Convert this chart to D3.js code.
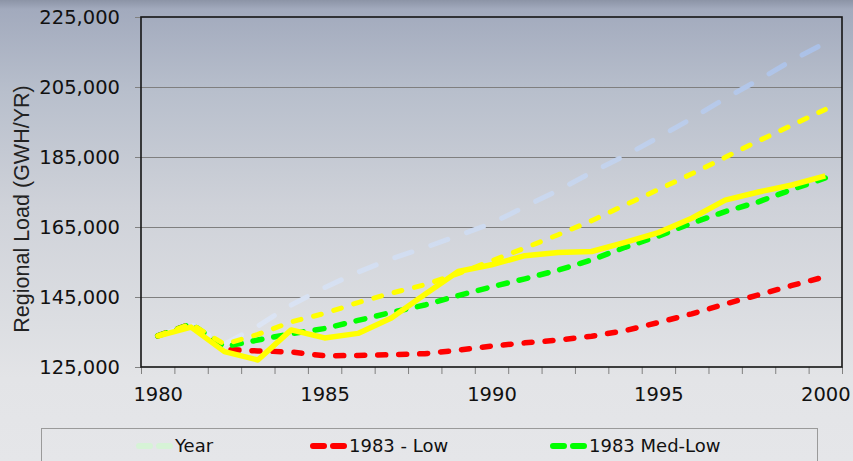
<!DOCTYPE html>
<html>
<head>
<meta charset="utf-8">
<title>Regional Load Forecasts</title>
<style>
  body { margin: 0; background: #e4e5e8; }
  svg { display: block; }
  text { font-family: 'DejaVu Sans', sans-serif; fill: #111; }
</style>
</head>
<body>
<script src="https://d3js.org/d3.v7.min.js"></script>
<script>

// values, 1980 - 2000
var years = [1980, 1981, 1982, 1983, 1984, 1985, 1986, 1987, 1988, 1989, 1990,
             1991, 1992, 1993, 1994, 1995, 1996, 1997, 1998, 1999, 2000];

var yearSeries   = [133900, 137300, 131500, 136700, 142700, 147700, 152100, 155900, 159100, 162500, 166000,
                    170800, 175500, 180600, 185400, 190600, 196000, 201700, 207000, 212600, 217600];
var lowSeries    = [133900, 137300, 130000, 129600, 129300, 128200, 128300, 128500, 128800, 129800, 131000,
                    131900, 132700, 133800, 135400, 137700, 140200, 143000, 145600, 148300, 150800];
var medLowSeries = [133900, 137300, 130800, 132700, 134500, 136000, 138300, 140600, 142700, 145400, 147900,
                    150200, 152700, 155600, 159200, 162400, 166100, 169400, 172200, 175700, 179000];
var mediumSeries = [133900, 137300, 131500, 134300, 137900, 140300, 143400, 146100, 148500, 151700, 155300,
                    159000, 162800, 166800, 171300, 175700, 180200, 184900, 189600, 194100, 198600];
var actualSeries = [133800, 136400, 129400, 127000, 135600, 133300, 134600, 139000, 145700, 152300, 154200,
                    156800, 157700, 158000, 160600, 163400, 167500, 172700, 175000, 177000, 179600];

var seriesNames = ["Year", "1983 - Low", "1983 Med-Low", "1983 Medium", "Actual"];
var yTicks = [125000, 145000, 165000, 185000, 205000, 225000];
var xLabels = [1980, 1985, 1990, 1995, 2000];

var width = 853, height = 461;
var margin = {top: 17, right: 11, bottom: 94, left: 141};

var svg = d3.select("body").append("svg")
    .attr("width", width)
    .attr("height", height);

var defs = svg.append("defs");

var bg = defs.append("linearGradient")
    .attr("id", "bg")
    .attr("x1", 0).attr("y1", 0).attr("x2", 0).attr("y2", 1);
[["0", "#8c94a6"], ["0.02", "#a2aabd"], ["0.2", "#b8bfcc"], ["0.45", "#cfd2d9"],
 ["0.7", "#dcdee2"], ["0.82", "#e3e4e7"], ["1", "#e5e6e9"]].forEach(function(s) {
    bg.append("stop").attr("offset", s[0]).attr("stop-color", s[1]);
});

svg.append("rect")
    .attr("width", width)
    .attr("height", height)
    .attr("fill", "url(#bg)");

var x = d3.scaleLinear()
    .domain([years[0] - 0.5, years[years.length - 1] + 0.5])
    .range([margin.left, width - margin.right]);

var y = d3.scaleLinear()
    .domain([yTicks[0], yTicks[yTicks.length - 1]])
    .range([height - margin.bottom, margin.top]);

// pale stroke of the "Year" line gets bluer towards the top
var yearGrad = defs.append("linearGradient")
    .attr("id", "yearStroke")
    .attr("gradientUnits", "userSpaceOnUse")
    .attr("x1", 0).attr("x2", 0)
    .attr("y1", y(225000)).attr("y2", y(125000));
yearGrad.append("stop").attr("offset", "0").attr("stop-color", "#a4bce6");
yearGrad.append("stop").attr("offset", "0.5").attr("stop-color", "#c9d7ee");
yearGrad.append("stop").attr("offset", "1").attr("stop-color", "#e2e9f6");

// gridlines
svg.append("g")
    .selectAll("line")
    .data(yTicks.slice(1, -1))
    .enter().append("line")
    .attr("x1", margin.left)
    .attr("x2", width - margin.right)
    .attr("y1", function(d) { return Math.round(y(d)) + 0.5; })
    .attr("y2", function(d) { return Math.round(y(d)) + 0.5; })
    .attr("stroke", "#7f7f7f")
    .attr("stroke-width", 1.2);

// y axis
var yAxis = svg.append("g")
    .attr("transform", "translate(" + margin.left + ",0)")
    .call(d3.axisLeft(y).tickValues(yTicks).tickFormat(d3.format(",")).tickSize(6).tickPadding(15));
yAxis.select(".domain").remove();
yAxis.selectAll(".tick line").attr("stroke", "#808080");
yAxis.selectAll("text")
    .attr("font-family", "'DejaVu Sans', sans-serif")
    .attr("font-size", "19.5px")
    .attr("fill", "#111");

// x axis: ticks between categories, labels every 5 years
var bounds = years.map(function(d) { return d - 0.5; }).concat([years[years.length - 1] + 0.5]);
var xTicks = svg.append("g")
    .attr("transform", "translate(0," + (height - margin.bottom) + ")")
    .call(d3.axisBottom(x).tickValues(bounds).tickSize(7).tickFormat(""));
xTicks.select(".domain").remove();
xTicks.selectAll(".tick line").attr("stroke", "#808080");

var xAxis = svg.append("g")
    .attr("transform", "translate(0," + (height - margin.bottom) + ")")
    .call(d3.axisBottom(x).tickValues(xLabels).tickFormat(d3.format("d")).tickSize(0).tickPadding(20));
xAxis.select(".domain").remove();
xAxis.selectAll("text")
    .attr("font-family", "'DejaVu Sans', sans-serif")
    .attr("font-size", "19.5px")
    .attr("fill", "#111");

// y title
svg.append("text")
    .attr("transform", "translate(29," + ((margin.top + height - margin.bottom) / 2 + 17) + ") rotate(-90)")
    .attr("text-anchor", "middle")
    .style("font-family", "'Liberation Sans', Arial, sans-serif")
    .style("font-size", "21.5px")
    .style("fill", "#222")
    .text("Regional Load (GWH/YR)");

// lines
var series = [
    {name: seriesNames[0], values: yearSeries,   color: "url(#yearStroke)", swatch: "#d6f3d6", width: 5,   dash: "18,20"},
    {name: seriesNames[1], values: lowSeries,    color: "#ff0000",          swatch: "#ff0000", width: 5.5, dash: "8,13"},
    {name: seriesNames[2], values: medLowSeries, color: "#00ff00",          swatch: "#00ff00", width: 5.5, dash: "9,12"},
    {name: seriesNames[3], values: mediumSeries, color: "#ffff00",          swatch: "#ffff00", width: 5,   dash: "8,13"},
    {name: seriesNames[4], values: actualSeries, color: "#ffff00",          swatch: "#ffff00", width: 5.5, dash: null}
];

var line = d3.line()
    .x(function(d, i) { return x(years[i]); })
    .y(function(d) { return y(d); });

svg.append("g")
    .selectAll("path")
    .data(series)
    .enter().append("path")
    .attr("d", function(d) { return line(d.values); })
    .attr("fill", "none")
    .attr("stroke", function(d) { return d.color; })
    .attr("stroke-width", function(d) { return d.width; })
    .attr("stroke-dasharray", function(d) { return d.dash; })
    .attr("stroke-linecap", function(d) { return d.dash ? "round" : "butt"; })
    .attr("stroke-linejoin", "round");

// plot frame
svg.append("rect")
    .attr("x", margin.left)
    .attr("y", margin.top)
    .attr("width", width - margin.left - margin.right)
    .attr("height", height - margin.top - margin.bottom)
    .attr("fill", "none")
    .attr("stroke", "#151515")
    .attr("stroke-width", 1.6);

// legend box runs past the bottom edge; only its first row is in view
svg.append("rect")
    .attr("x", 41.5)
    .attr("y", 428.5)
    .attr("width", 776)
    .attr("height", 64)
    .attr("fill", "none")
    .attr("stroke", "#9a9a9a")
    .attr("stroke-width", 1);

var cols = [136, 310, 550];
var legend = svg.append("g")
    .selectAll("g")
    .data(series.slice(0, 3))
    .enter().append("g")
    .attr("transform", function(d, i) { return "translate(" + cols[i] + ",446)"; });

legend.append("line")
    .attr("x1", 3)
    .attr("x2", 34)
    .attr("stroke", function(d) { return d.swatch; })
    .attr("stroke-width", 6)
    .attr("stroke-linecap", "round")
    .attr("stroke-dasharray", "11,9");

legend.append("text")
    .attr("x", 39)
    .attr("y", 6)
    .attr("font-size", "18px")
    .text(function(d) { return d.name; });

</script>
</body>
</html>
